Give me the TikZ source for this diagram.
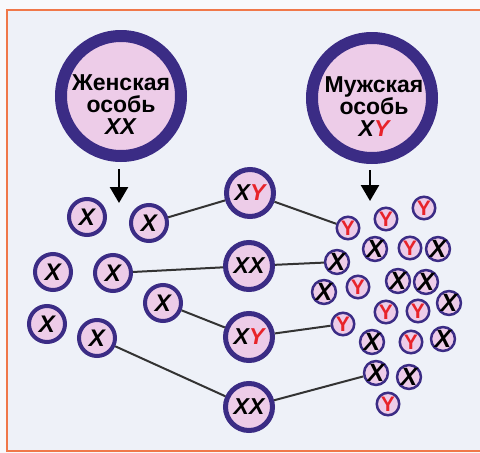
\documentclass[tikz,border=0pt]{standalone}
\usepackage{fontspec}
\setmainfont{Liberation Sans}
\usetikzlibrary{arrows.meta}

\definecolor{cellpink}{RGB}{237,204,232}
\definecolor{cellrim}{RGB}{59,44,133}
\definecolor{chromred}{RGB}{232,35,42}
\definecolor{framered}{RGB}{240,120,74}
\definecolor{paper}{RGB}{238,241,248}

\newcommand{\chrY}{\textcolor{chromred}{Y}}

\begin{document}
\begin{tikzpicture}[x=1pt, y=-1pt,
		cell/.style={circle, inner sep=0pt, fill=cellpink, draw=cellrim, font=\bfseries},
		bigcell/.style={cell, line width=12pt, minimum size=120pt, align=center, font=\bfseries\fontsize{23}{23}\selectfont},
		zygote/.style={cell, line width=5pt, minimum size=47pt, font=\bfseries\itshape\fontsize{23}{23}\selectfont},
		egg/.style={cell, line width=4pt, minimum size=36pt, font=\bfseries\itshape\fontsize{24}{24}\selectfont},
		sperm/.style={cell, line width=2.5pt, minimum size=22.5pt},
		link/.style={line width=2pt, black!80},
		arr/.style={line width=2.5pt, -{Triangle[length=16pt, width=18pt]}}]
		\useasboundingbox (0,0) rectangle (480,453);
		\fill[white!60!paper] (0,0) rectangle (480,453);
		\fill[paper] (7,10) rectangle (480,451);
		\draw[framered, line width=2pt] (480,10) -- (7,10) -- (7,451) -- (480,451);

		% PARENTS
		\node[bigcell] (female) at (121,96) {};
		\node[bigcell] (male) at (372,98) {};
		\node[align=center, font=\bfseries\fontsize{23}{22}\selectfont] (ftext) at (121,105) {Женская\\особь\\\textit{XX}};
		\node[align=center, font=\bfseries\fontsize{23}{22}\selectfont] (mtext) at (374,107) {Мужская\\особь\\\textit{X\chrY}};
		\coordinate (fa) at (119,203);
		\coordinate (ma) at (370,201);
		\draw[arr] ([xshift=-2pt, yshift=-7pt]female.south) -- (fa);
		\draw[arr] ([xshift=-2pt, yshift=-6pt]male.south) -- (ma);

		% EGGS
		\node[egg] (e1) at (87,217) {X};
		\node[egg] (e2) at (149,223) {X};
		\node[egg] (e3) at (53,272) {X};
		\node[egg] (e4) at (113,273) {X};
		\node[egg] (e5) at (163,303) {X};
		\node[egg] (e6) at (47,324) {X};
		\node[egg] (e7) at (97,338) {X};

		% SPERM
		\foreach \n/\x/\y in {ys1/348/228, ys2/386/219, ys3/424/208, ys4/410/248, ys5/358/287,
				ys6/386/312, ys7/418/311, ys8/343/324, ys9/411/342, ys10/388/404}
			\node[sperm, font=\bfseries\fontsize{21}{21}\selectfont] (\n) at (\x,\y) {\chrY};
		\foreach \n/\x/\y in {xs1/375/249, xs2/438/249, xs3/337/262, xs4/324/292, xs5/398/281,
				xs6/426/282, xs7/449/303, xs8/372/342, xs9/443/339, xs10/376/373, xs11/409/377}
			\node[sperm, font=\bfseries\itshape\fontsize{25}{25}\selectfont] (\n) at (\x,\y) {X};

		% ZYGOTES
		\node[zygote] (z1) at (250,193) {X\chrY};
		\node[zygote] (z2) at (249,266) {XX};
		\node[zygote] (z3) at (249,337) {X\chrY};
		\node[zygote] (z4) at (249,407) {XX};

		\draw[link] (e2) -- (z1) -- (ys1);
		\draw[link] (e4) -- (z2) -- (xs3);
		\draw[link] (e5) -- (z3) -- (ys8);
		\draw[link] (e7) -- (z4) -- (xs10);
	\end{tikzpicture}
\end{document}
